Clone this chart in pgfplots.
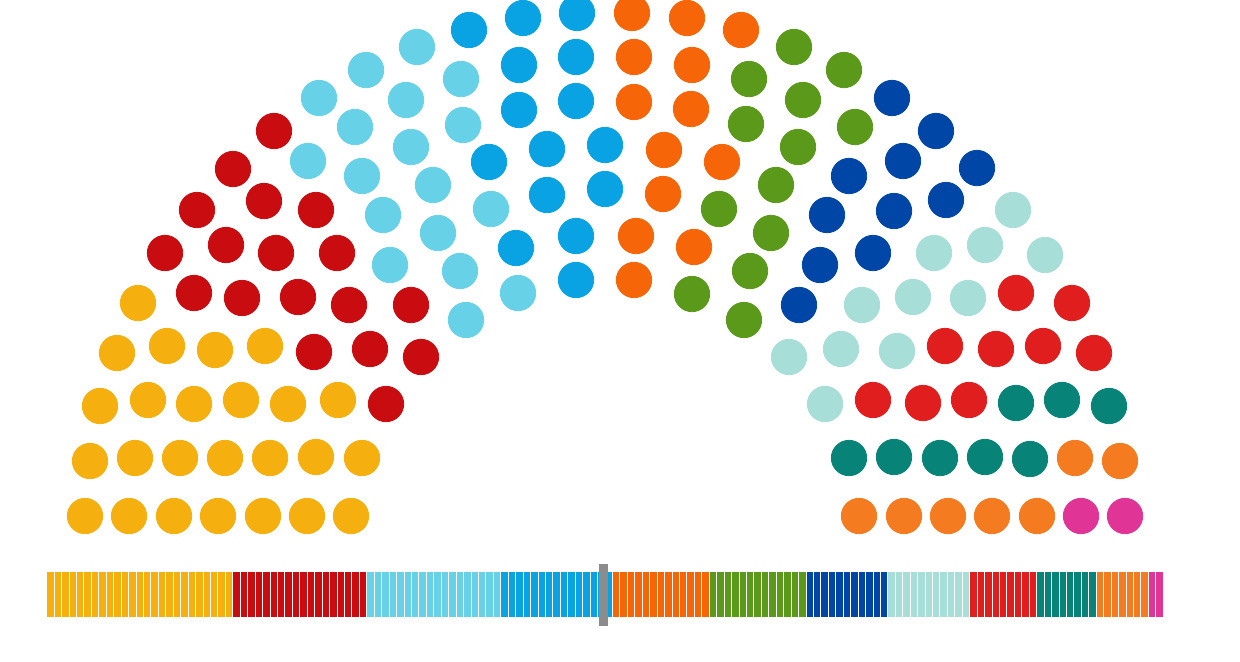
\documentclass[border=0pt]{standalone}
\usepackage{pgfplots}
\pgfplotsset{compat=1.18}
\definecolor{cYel}{HTML}{F5B00F}
\definecolor{cDRed}{HTML}{C90C0F}
\definecolor{cLCy}{HTML}{67D1E8}
\definecolor{cBlu}{HTML}{09A3E3}
\definecolor{cOra}{HTML}{F66507}
\definecolor{cGrn}{HTML}{5B991A}
\definecolor{cDBl}{HTML}{0046A6}
\definecolor{cPTl}{HTML}{A8DED8}
\definecolor{cRed}{HTML}{E01E1E}
\definecolor{cTeal}{HTML}{078477}
\definecolor{cOr2}{HTML}{F47B20}
\definecolor{cPnk}{HTML}{E13497}
\definecolor{cDiv}{HTML}{8C8C8C}
\pgfplotsset{seat/.style={only marks, mark=*, mark size=8.85pt, color=#1, mark options={draw=none, fill=#1}}}
\begin{document}
\begin{tikzpicture}
\useasboundingbox (0,0) rectangle (620pt,330.5pt);
% seat bar: 150 seats, one stripe per seat
\begin{axis}[at={(23.35pt,22.15pt)}, anchor=south west, scale only axis,
  width=558.3pt, height=22.5pt, xbar stacked, bar width=22.5pt,
  xmin=0, xmax=150, ymin=-0.5, ymax=0.5,
  xtick={1,...,149}, xticklabels={}, ytick=\empty,
  xmajorgrids, major grid style={white, line width=0.5pt},
  axis on top, axis line style={draw=none}, tick style={draw=none}]
\addplot[fill=cYel, draw=none] coordinates {(25,0)};
\addplot[fill=cDRed, draw=none] coordinates {(18,0)};
\addplot[fill=cLCy, draw=none] coordinates {(18,0)};
\addplot[fill=cBlu, draw=none] coordinates {(15,0)};
\addplot[fill=cOra, draw=none] coordinates {(13,0)};
\addplot[fill=cGrn, draw=none] coordinates {(13,0)};
\addplot[fill=cDBl, draw=none] coordinates {(11,0)};
\addplot[fill=cPTl, draw=none] coordinates {(11,0)};
\addplot[fill=cRed, draw=none] coordinates {(9,0)};
\addplot[fill=cTeal, draw=none] coordinates {(8,0)};
\addplot[fill=cOr2, draw=none] coordinates {(7,0)};
\addplot[fill=cPnk, draw=none] coordinates {(2,0)};
\end{axis}
% hemicycle, coordinates in pixels of the 1240x661 picture
\begin{axis}[at={(0,0)}, anchor=south west, scale only axis,
  width=620pt, height=330.5pt, xmin=0, xmax=1240, ymin=0, ymax=661,
  hide axis, clip=false]
\addplot[seat=cYel] coordinates {
(85,145)(90,200)(100,255)(117,308)(138,358)
(129,145)(135,203)(148,261)(167,315)
(174,145)(180,203)(194,257)(215,311)
(218,145)(225,203)(241,261)(265,315)
(263,145)(270,203)(288,257)
(307,145)(316,204)(338,261)
(351,145)(362,203)
};
\addplot[seat=cDRed] coordinates {
(165,408)(197,451)(233,492)(274,530)
(194,368)(226,416)(264,460)
(242,363)(276,408)(316,451)
(298,364)(337,408)
(314,309)(349,356)
(370,312)(411,356)
(386,257)(421,304)
};
\addplot[seat=cLCy] coordinates {
(319,563)(366,591)(417,614)
(308,500)(355,534)(406,561)(461,582)
(362,485)(411,514)(463,536)
(383,446)(433,476)
(390,396)(438,428)(491,452)
(460,390)
(466,341)(518,368)
};
\addplot[seat=cBlu] coordinates {
(469,631)(523,643)(577,648)
(519,596)(576,604)
(519,551)(576,560)
(489,499)(547,512)(605,516)
(547,466)(605,472)
(516,413)(576,425)
(576,381)
};
\addplot[seat=cOra] coordinates {
(632,648)(687,643)(741,631)
(634,604)(692,596)
(634,559)(691,552)
(664,511)(722,499)
(663,467)
(636,425)(694,414)
(634,381)
};
\addplot[seat=cGrn] coordinates {
(794,614)(844,591)
(749,582)(803,561)(855,534)
(746,537)(798,514)
(776,476)
(719,452)(771,428)
(750,390)
(692,367)(744,341)
};
\addplot[seat=cDBl] coordinates {
(892,563)(936,530)(977,493)
(903,500)(946,461)
(849,485)(894,450)
(827,446)(873,408)
(820,396)
(799,356)
};
\addplot[seat=cPTl] coordinates {
(1013,451)(1045,406)
(985,416)
(934,408)(968,363)
(913,364)
(862,356)(897,310)
(841,312)
(789,304)(825,257)
};
\addplot[seat=cRed] coordinates {
(1072,358)(1094,308)
(1016,368)(1043,315)
(996,312)
(945,315)(969,261)
(923,258)
(873,261)
};
\addplot[seat=cTeal] coordinates {
(1109,255)
(1062,261)
(1016,258)(1030,202)
(985,204)
(940,203)
(894,204)
(849,203)
};
\addplot[seat=cOr2] coordinates {
(1120,200)
(1075,203)
(1037,145)
(992,145)
(948,145)
(904,145)
(859,145)
};
\addplot[seat=cPnk] coordinates {
(1125,145)(1081,145)
};
% majority marker on the seat bar
\addplot[no marks, draw=cDiv, line width=4.35pt] coordinates {(603.7,35)(603.7,97)};
\end{axis}
\end{tikzpicture}
\end{document}
